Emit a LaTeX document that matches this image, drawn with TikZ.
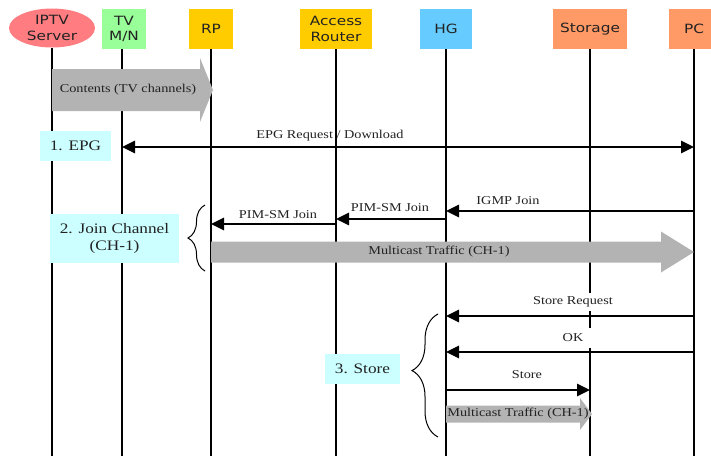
\documentclass[tikz,border=0pt]{standalone}
\usepackage{fontspec}
\setmainfont{Liberation Serif}[FakeStretch=1.19]
\newfontfamily\hdrfont{DejaVu Sans}[FakeStretch=1.2]
\usetikzlibrary{arrows.meta,shapes.geometric,decorations.pathreplacing,calc}
\definecolor{cPink}{HTML}{FF7C80}
\definecolor{cGreen}{HTML}{99FF99}
\definecolor{cYellow}{HTML}{FFCC00}
\definecolor{cBlue}{HTML}{66CCFF}
\definecolor{cOrange}{HTML}{FF9966}
\definecolor{cCyan}{HTML}{CCFFFF}
\definecolor{cGray}{HTML}{B3B3B3}
\definecolor{cText}{HTML}{222222}
\begin{document}
\begin{tikzpicture}[x=1pt,y=-1pt,
  hdr/.style={draw=none, minimum height=40pt, inner sep=0pt, align=center,
    font=\hdrfont\fontsize{12.75}{15.5}\selectfont, text=cText},
  life/.style={line width=2.6pt},
  msg/.style={line width=2.6pt, >={Triangle[length=13pt,width=12pt]}},
  lbl/.style={font=\fontsize{12}{14}\selectfont, inner sep=1pt, text=cText},
  wlbl/.style={lbl, fill=white, minimum width=44pt},
  phase/.style={fill=cCyan, inner sep=0pt, align=center,
    font=\fontsize{14.5}{17.5}\selectfont, text=cText},
  blockarrow/.style={fill=cGray, draw=none},
  bracestyle/.style={decorate, line width=1pt}
]
\useasboundingbox (0,0) rectangle (711,456);
\clip (0,0) rectangle (711,456);

% headers
\node[hdr, ellipse, fill=cPink, minimum width=86pt, minimum height=39pt] (srv) at (52,28) {IPTV\\Server};
\node[hdr, fill=cGreen, minimum width=44pt] (tv) at (124,29) {TV\\M/N};
\node[hdr, fill=cYellow, minimum width=44pt] (rp) at (211,29) {RP};
\node[hdr, fill=cYellow, minimum width=72pt] (ar) at (336,29) {Access\\Router};
\node[hdr, fill=cBlue, minimum width=52pt] (hg) at (446,29) {HG};
\node[hdr, fill=cOrange, minimum width=74pt] (st) at (590,29) {Storage};
\node[hdr, fill=cOrange, minimum width=50pt] (pc) at (694,29) {PC};

% lifelines
\coordinate (bottom) at (0,456);
\draw[life] (srv.south) -- (srv |- bottom);
\draw[life] ([xshift=-2pt]tv.south) -- ([xshift=-2pt]tv.south |- bottom);
\foreach \n in {rp,ar,hg,st,pc} \draw[life] (\n.south) -- (\n |- bottom);

% rows
\coordinate (yC) at (0,90);
\coordinate (yE) at (0,147);
\coordinate (yI) at (0,211);
\coordinate (yP1) at (0,219);
\coordinate (yP2) at (0,224);
\coordinate (yM) at (0,252);
\coordinate (yR) at (0,316);
\coordinate (yK) at (0,352);
\coordinate (yS) at (0,390);
\coordinate (yT) at (0,414);

% Contents block arrow
\fill[blockarrow] ($(srv|-yC)+(0,-21)$) -- ($(rp|-yC)+(-11,-21)$) -- ($(rp|-yC)+(-11,-32)$)
  -- ($(rp|-yC)+(2,0)$) -- ($(rp|-yC)+(-11,32)$) -- ($(rp|-yC)+(-11,21)$) -- ($(srv|-yC)+(0,21)$) -- cycle;
\node[lbl] (contents) at (128,90) {Contents (TV channels)};

% phase 1
\node[phase, minimum width=71pt, minimum height=30pt] (p1) at (75.5,146) {1. EPG};
\node[lbl] (epgl) at (330,136) {EPG Request / Download};
\draw[msg,<->] ([xshift=-2pt]tv|-yE) -- (pc|-yE);

% phase 2
\node[phase, minimum width=129pt, minimum height=49pt] (p2) at (114.5,238.5) {2. Join Channel\\(CH-1)};
\node[lbl] (igmpl) at (508,201) {IGMP Join};
\draw[msg,->] (pc|-yI) -- (hg|-yI);
\node[lbl] (pim1l) at (390,208) {PIM-SM Join};
\draw[msg,->] (hg|-yP1) -- (ar|-yP1);
\node[lbl] (pim2l) at (278,215) {PIM-SM Join};
\draw[msg,->] (ar|-yP2) -- (rp|-yP2);
\fill[blockarrow] ($(rp|-yM)+(0,-10.5)$) -- ($(pc|-yM)+(-33,-10.5)$) -- ($(pc|-yM)+(-33,-20.5)$)
  -- (pc|-yM) -- ($(pc|-yM)+(-33,20.5)$) -- ($(pc|-yM)+(-33,10.5)$) -- ($(rp|-yM)+(0,10.5)$) -- cycle;
\node[lbl] (mc1) at (439,252) {Multicast Traffic (CH-1)};
\coordinate (b1a) at (205,271);
\coordinate (b1b) at (205,205);
\draw[bracestyle, decoration={brace, amplitude=17pt, aspect=0.5}] (b1a) -- (b1b);

% phase 3
\node[wlbl, minimum height=18pt] (reql) at (573,302) {Store Request};
\draw[msg,->] (pc|-yR) -- (hg|-yR);
\node[wlbl, minimum height=20pt] (okl) at (573,338) {OK};
\draw[msg,->] (pc|-yK) -- (hg|-yK);
\node[phase, minimum width=75pt, minimum height=30pt] (p3) at (362.5,369) {3. Store};
\node[lbl] (storel) at (527,375) {Store};
\draw[msg,->] (hg|-yS) -- (st|-yS);
\fill[blockarrow] ($(hg|-yT)+(0,-8.5)$) -- ($(st|-yT)+(-10,-8.5)$) -- ($(st|-yT)+(-10,-16)$)
  -- ($(st|-yT)+(2,0)$) -- ($(st|-yT)+(-10,16)$) -- ($(st|-yT)+(-10,8.5)$) -- ($(hg|-yT)+(0,8.5)$) -- cycle;
\node[lbl] (mc2) at (518,414) {Multicast Traffic (CH-1)};
\coordinate (b2a) at (438,437);
\coordinate (b2b) at (438,314);
\draw[bracestyle, decoration={brace, amplitude=26pt, aspect=0.54}] (b2a) -- (b2b);
\end{tikzpicture}
\end{document}
